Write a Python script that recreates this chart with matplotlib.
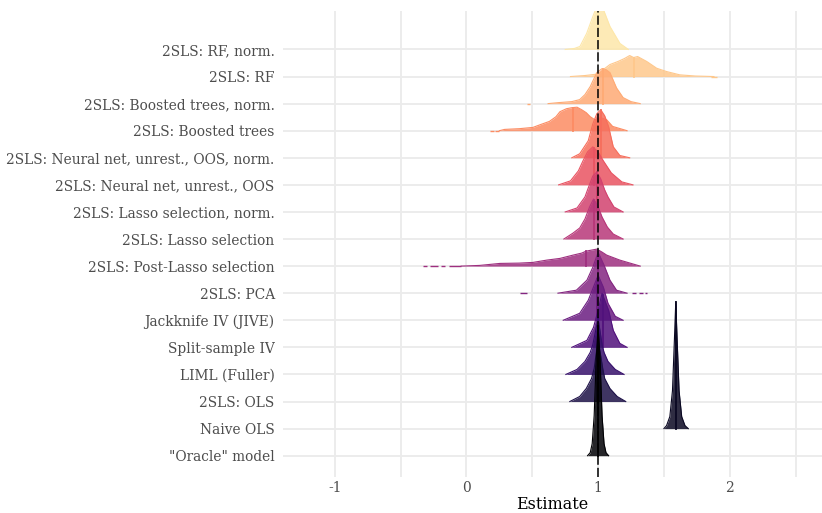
import numpy as np
import matplotlib
import matplotlib.pyplot as plt

# categories, bottom row first
labels = ['"Oracle" model', 'Naive OLS', '2SLS: OLS', 'LIML (Fuller)',
          'Split-sample IV', 'Jackknife IV (JIVE)', '2SLS: PCA',
          '2SLS: Post-Lasso selection', '2SLS: Lasso selection',
          '2SLS: Lasso selection, norm.', '2SLS: Neural net, unrest., OOS',
          '2SLS: Neural net, unrest., OOS, norm.', '2SLS: Boosted trees',
          '2SLS: Boosted trees, norm.', '2SLS: RF', '2SLS: RF, norm.']

# density curves (x = estimate, h = ridge height in px)
oracle_x = [0.92, 0.94, 0.955, 0.97, 0.985, 1.0, 1.015, 1.03, 1.045, 1.06, 1.08]
oracle_h = [0, 3, 12, 40, 95, 130, 95, 40, 12, 3, 0]
naive_x = [1.50, 1.52, 1.545, 1.565, 1.58, 1.59, 1.60, 1.615, 1.635, 1.66, 1.685]
naive_h = [0, 3, 12, 38, 90, 127, 90, 38, 12, 3, 0]
ols_x = [0.785, 0.86, 0.91, 0.95, 0.97, 1.0, 1.035, 1.05, 1.09, 1.145, 1.21]
ols_h = [0, 5, 13, 23, 33, 62, 33, 23, 13, 5, 0]
liml_x = [0.755, 0.84, 0.90, 0.94, 0.96, 1.0, 1.03, 1.045, 1.075, 1.13, 1.197]
liml_h = [0, 5, 13, 22, 30, 56, 30, 22, 13, 5, 0]
split_x = [0.80, 0.915, 0.965, 1.0, 1.03, 1.08, 1.115, 1.165, 1.22]
split_h = [0, 7, 20, 37, 54, 37, 17, 4, 0]
jive_x = [0.735, 0.86, 0.925, 0.97, 1.0, 1.04, 1.075, 1.13, 1.19]
jive_h = [0, 7, 20, 35, 45, 33, 17, 4, 0]
pca_x = [0.695, 0.835, 0.915, 0.96, 1.0, 1.045, 1.09, 1.14, 1.22]
pca_h = [0, 3, 13, 26, 41, 28, 13, 3, 0]
postlasso_x = [-0.04, 0.1, 0.255, 0.4, 0.505, 0.61, 0.71, 0.81, 0.875, 0.91,
               0.95, 0.99, 1.03, 1.065, 1.165, 1.32]
postlasso_h = [0, 0.7, 2.7, 3, 3.7, 6, 7.7, 11, 13, 15, 16, 17, 14, 11, 6, 0]
lasso_x = [0.74, 0.81, 0.86, 0.90, 0.935, 0.965, 0.995, 1.03, 1.07, 1.115, 1.19]
lasso_h = [0, 6, 11, 20, 32, 40, 34, 22, 12, 5, 0]
lassonorm_x = [0.75, 0.84, 0.90, 0.925, 0.96, 0.99, 1.02, 1.05, 1.075, 1.12, 1.19]
lassonorm_h = [0, 4, 15, 24, 36, 40, 33, 22, 15, 5, 0]
nnoos_x = [0.70, 0.79, 0.85, 0.885, 0.92, 0.96, 1.0, 1.04, 1.065, 1.10, 1.18, 1.265]
nnoos_h = [0, 4, 14, 24, 33, 38, 33, 24, 19, 12, 3, 0]
nnnorm_x = [0.80, 0.86, 0.925, 0.96, 0.99, 1.02, 1.05, 1.08, 1.115, 1.165, 1.24]
nnnorm_h = [0, 4, 17, 34, 44, 48, 42, 31, 11, 2.3, 0]
boost_x = [0.25, 0.29, 0.40, 0.505, 0.56, 0.63, 0.68, 0.71, 0.76, 0.80, 0.84,
           0.875, 0.91, 0.94, 0.975, 1.02, 1.065, 1.11, 1.22]
boost_h = [0, 1.3, 2, 3.3, 6, 9.3, 14, 19, 22, 23, 23.5, 21, 18, 14, 11, 13, 11, 4.3, 0]
boostnorm_x = [0.62, 0.70, 0.80, 0.86, 0.90, 0.94, 0.99, 1.03, 1.06, 1.09, 1.14,
               1.19, 1.25, 1.32]
boostnorm_h = [0, 1, 2, 4, 9, 17, 31, 35, 34, 31, 15.7, 6, 2, 0]
rf_x = [0.79, 0.90, 1.01, 1.05, 1.09, 1.15, 1.20, 1.24, 1.27, 1.30, 1.37, 1.445,
        1.52, 1.62, 1.74, 1.80, 1.88]
rf_h = [0, 1, 2.7, 8, 12, 15, 18, 21, 19, 20, 15, 8.3, 5, 1.7, 0.5, 0.3, 0]
rfnorm_x = [0.75, 0.82, 0.862, 0.913, 0.963, 1.0, 1.04, 1.09, 1.166, 1.23]
rfnorm_h = [0, 1, 3, 16, 34, 46, 40, 23, 6, 0]

curves_x = [oracle_x, naive_x, ols_x, liml_x, split_x, jive_x, pca_x, postlasso_x,
            lasso_x, lassonorm_x, nnoos_x, nnnorm_x, boost_x, boostnorm_x, rf_x, rfnorm_x]
curves_h = [oracle_h, naive_h, ols_h, liml_h, split_h, jive_h, pca_h, postlasso_h,
            lasso_h, lassonorm_h, nnoos_h, nnnorm_h, boost_h, boostnorm_h, rf_h, rfnorm_h]

# medians (quantile lines)
medians = [1.0, 1.59, 1.0, 1.0, 1.035, 0.99, 1.0, 0.905, 0.97, 0.99, 0.97,
           1.02, 0.81, 1.04, 1.27, 1.0]

# sparse tail bits drawn on the baseline
tails = {7: [(-0.33, -0.30), (-0.28, -0.22), (-0.19, -0.16), (-0.13, -0.04)],
         6: [(0.41, 0.46), (1.26, 1.29), (1.31, 1.34), (1.355, 1.37)],
         12: [(0.18, 0.21), (0.22, 0.25)],
         13: [(0.46, 0.48)],
         14: [(1.86, 1.90)]}

true_value = 1.0
row_px = 27.08

plt.rcParams['font.family'] = ['DejaVu Serif']
fig = plt.figure(figsize=(8.22, 5.13), dpi=100)
ax = fig.add_axes([283 / 822, 1 - 477 / 513, 1 - 283 / 822, (477 - 11) / 513])

n = len(labels)
colors = matplotlib.colormaps['magma'](np.linspace(0, 0.95, n))

for i in range(n - 1, -1, -1):
    x = np.array(curves_x[i])
    h = np.array(curves_h[i]) / row_px
    c = colors[i]
    z = 10 + (n - i) * 3
    ax.fill_between(x, i, i + h, color=c, alpha=0.85, lw=0, zorder=z)
    ax.plot(x, i + h, color=c, lw=0.8, zorder=z + 1)
    hm = np.interp(medians[i], x, h)
    ax.plot([medians[i], medians[i]], [i, i + hm], color=c, lw=1.3, zorder=z + 1)
    for a, b in tails.get(i, []):
        ax.plot([a, b], [i, i], color=c, lw=1.0, zorder=z + 1, solid_capstyle='butt')

ax.axvline(true_value, color='black', lw=1.1, ls=(0, (6, 2)), zorder=100)

ax.set_xlim(-1.394, 2.701)
ax.set_ylim(-0.787, 16.42)
ax.set_yticks(range(n))
ax.set_yticklabels(labels)
ax.set_xticks([-1, 0, 1, 2])
ax.set_xticklabels(['-1', '0', '1', '2'])
ax.set_xticks([-0.5, 0.5, 1.5, 2.5], minor=True)
ax.grid(True, which='both', axis='x', color='#EBEBEB', lw=1.3, zorder=0)
ax.grid(True, which='major', axis='y', color='#EBEBEB', lw=1.3, zorder=0)
ax.set_axisbelow(True)
ax.tick_params(axis='both', which='both', length=0, labelcolor='#4D4D4D',
               labelsize=9.9)
ax.tick_params(axis='y', pad=6)
ax.tick_params(axis='x', pad=3)
for s in ax.spines.values():
    s.set_visible(False)
ax.set_xlabel('Estimate', fontsize=11.5, color='black', labelpad=0.5)

fig.savefig('out.png', dpi=100)
